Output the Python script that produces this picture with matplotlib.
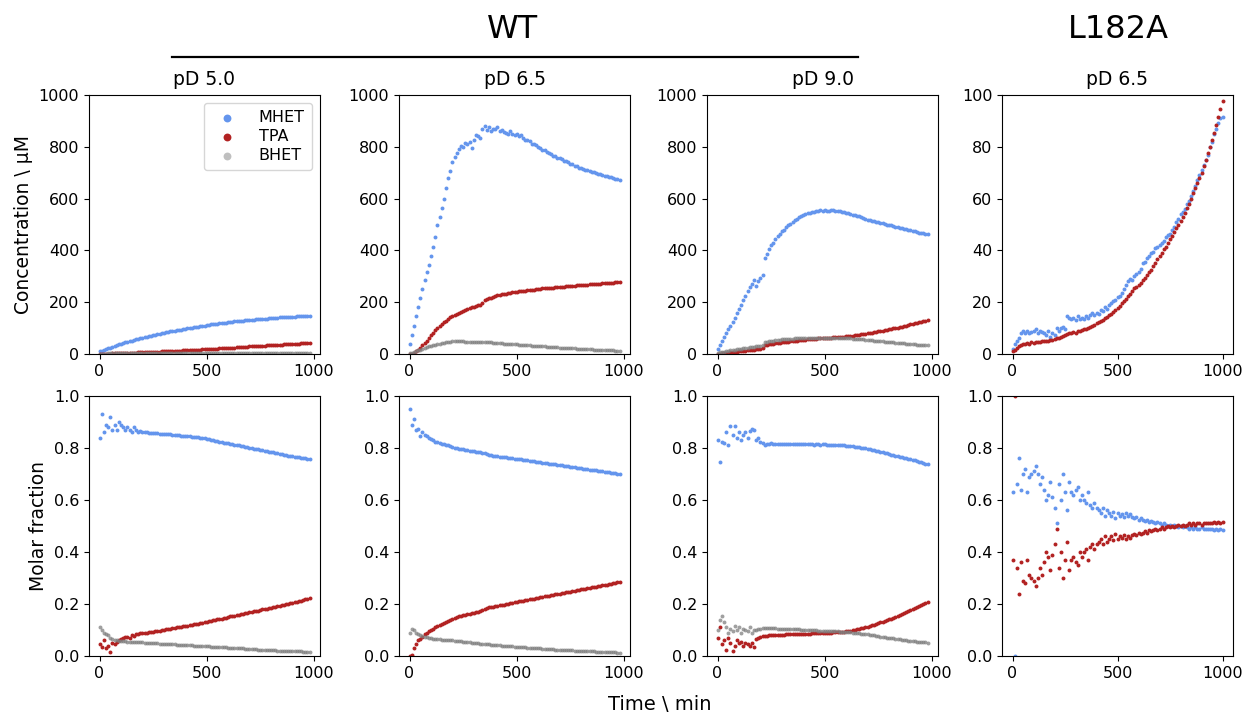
import numpy as np
import matplotlib
matplotlib.use("Agg")
import matplotlib.pyplot as plt
from matplotlib.lines import Line2D

# ---------------- data ----------------
time_wt = np.arange(0, 990, 10)      # min, WT runs
time_l182a = np.arange(0, 1010, 10)  # min, L182A run

panel_titles = ["pD 5.0", "pD 6.5", "pD 9.0", "pD 6.5"]
series_names = ["MHET", "TPA", "BHET"]

# Concentrations (µM)
mhet_pd50 = [
    10, 13, 16, 19, 22, 25, 28, 31, 34, 37,
    40, 42, 45, 47, 50, 52, 54, 56, 58, 61,
    63, 65, 67, 69, 71, 73, 75, 77, 78, 80,
    82, 84, 85, 87, 88, 90, 91, 93, 94, 96,
    98, 99, 100, 102, 103, 104, 106, 107, 108, 110,
    112, 113, 114, 115, 116, 117, 118, 119, 120, 121,
    123, 124, 125, 126, 127, 127, 128, 129, 130, 131,
    132, 133, 133, 134, 135, 135, 136, 137, 137, 138,
    139, 139, 140, 140, 141, 141, 142, 142, 143, 143,
    144, 144, 145, 145, 146, 146, 147, 147, 148]
tpa_pd50 = [
    0, 0, 1, 1, 1, 1, 2, 2, 2, 3,
    3, 3, 4, 4, 4, 5, 5, 5, 6, 6,
    6, 7, 7, 7, 8, 8, 9, 9, 9, 10,
    10, 10, 11, 11, 12, 12, 12, 13, 13, 14,
    14, 14, 15, 15, 16, 16, 17, 17, 18, 18,
    19, 19, 20, 20, 21, 21, 22, 22, 23, 23,
    24, 24, 25, 25, 26, 26, 27, 27, 28, 28,
    29, 29, 30, 30, 31, 31, 32, 32, 33, 33,
    34, 34, 35, 35, 36, 36, 37, 37, 38, 38,
    39, 39, 40, 40, 41, 41, 42, 42, 43]
bhet_pd50 = [
    1, 1, 1, 1, 2, 2, 2, 2, 2, 2,
    2, 3, 3, 3, 3, 3, 3, 3, 3, 4,
    4, 4, 4, 4, 4, 4, 4, 4, 4, 5,
    5, 5, 5, 5, 5, 5, 5, 5, 5, 5,
    5, 5, 5, 5, 5, 5, 5, 5, 5, 5,
    5, 5, 5, 5, 5, 5, 5, 5, 5, 5,
    5, 5, 5, 5, 5, 5, 4, 4, 4, 4,
    4, 4, 4, 4, 4, 4, 4, 4, 4, 4,
    4, 4, 4, 4, 4, 4, 4, 4, 4, 3,
    3, 3, 3, 3, 3, 3, 3, 3, 3]

mhet_pd65 = [
    40, 75, 110, 145, 180, 215, 250, 285, 315, 345,
    380, 415, 450, 500, 530, 565, 600, 640, 680, 705,
    740, 760, 775, 790, 805, 800, 815, 810, 820, 795,
    825, 845, 840, 835, 870, 880, 865, 875, 860, 870,
    868, 875, 862, 865, 858, 855, 850, 860, 848, 845,
    850, 840, 845, 835, 828, 825, 822, 812, 810, 806,
    800, 797, 788, 786, 780, 776, 772, 765, 764, 757,
    756, 753, 746, 745, 741, 735, 733, 727, 725, 719,
    717, 715, 710, 710, 705, 703, 701, 697, 696, 694,
    692, 688, 687, 683, 682, 678, 677, 674, 671]
tpa_pd65 = [
    0, 0, 3, 10, 17, 25, 33, 42, 52, 62,
    72, 82, 92, 100, 108, 115, 122, 128, 135, 141,
    146, 150, 154, 158, 162, 166, 169, 172, 176, 180,
    183, 186, 188, 190, 198, 208, 212, 215, 218, 221,
    224, 226, 228, 230, 231, 233, 235, 236, 238, 239,
    241, 242, 243, 244, 245, 246, 247, 248, 249, 250,
    251, 252, 253, 253, 254, 255, 256, 256, 257, 258,
    259, 260, 260, 261, 262, 263, 263, 264, 265, 265,
    266, 267, 267, 268, 269, 269, 270, 271, 271, 272,
    273, 273, 274, 275, 275, 276, 277, 277, 278]
bhet_pd65 = [
    2, 5, 8, 11, 14, 17, 20, 23, 26, 29,
    31, 33, 36, 38, 40, 42, 44, 46, 47, 48,
    49, 50, 50, 50, 49, 49, 48, 48, 47, 47,
    46, 46, 46, 45, 45, 45, 46, 45, 45, 44,
    44, 43, 42, 41, 40, 40, 39, 38, 38, 37,
    37, 36, 35, 35, 34, 33, 33, 32, 31, 31,
    30, 30, 29, 29, 28, 28, 27, 27, 26, 26,
    25, 25, 24, 24, 23, 23, 22, 22, 21, 21,
    20, 20, 19, 19, 18, 18, 17, 17, 16, 16,
    15, 15, 15, 14, 14, 14, 13, 13, 13]

mhet_pd90 = [
    20, 35, 50, 65, 80, 95, 108, 122, 140, 158,
    175, 190, 208, 225, 245, 258, 270, 285, 262, 280,
    295, 305, 370, 385, 405, 420, 430, 445, 455, 465,
    475, 480, 490, 497, 503, 510, 516, 522, 528, 532,
    537, 540, 543, 546, 548, 550, 552, 553, 555, 554,
    555, 553, 554, 556, 555, 552, 553, 551, 549, 547,
    545, 543, 541, 538, 536, 533, 531, 528, 525, 522,
    519, 518, 514, 513, 509, 509, 505, 504, 501, 500,
    497, 497, 493, 492, 489, 488, 485, 484, 481, 480,
    477, 476, 473, 472, 469, 468, 466, 465, 462]
tpa_pd90 = [
    0, 1, 2, 3, 4, 5, 6, 7, 8, 9,
    10, 11, 12, 13, 14, 15, 16, 17, 18, 19,
    20, 22, 33, 35, 37, 39, 40, 41, 43, 44,
    45, 46, 47, 48, 49, 50, 51, 52, 53, 54,
    55, 55, 56, 57, 58, 58, 59, 60, 60, 61,
    62, 62, 63, 63, 64, 64, 65, 66, 66, 67,
    68, 69, 70, 71, 72, 73, 74, 76, 77, 78,
    80, 81, 82, 84, 85, 87, 88, 90, 91, 93,
    95, 97, 99, 100, 102, 104, 106, 108, 110, 112,
    114, 116, 118, 120, 122, 124, 127, 129, 132]
bhet_pd90 = [
    5, 6, 8, 9, 11, 12, 14, 15, 17, 18,
    20, 21, 22, 23, 25, 26, 27, 28, 29, 30,
    31, 33, 46, 48, 49, 51, 52, 53, 54, 55,
    56, 57, 58, 58, 59, 59, 60, 60, 61, 61,
    62, 62, 62, 62, 63, 63, 63, 63, 63, 63,
    63, 63, 63, 63, 62, 62, 62, 62, 62, 61,
    61, 60, 60, 59, 59, 58, 57, 57, 56, 55,
    55, 54, 53, 52, 52, 51, 50, 49, 48, 48,
    47, 46, 45, 44, 43, 43, 42, 41, 40, 39,
    38, 38, 37, 36, 35, 35, 34, 33, 33]

mhet_l182a = [
    2, 4, 5, 6, 8, 9, 8, 9, 8, 8.5,
    9, 9.5, 8, 9, 8.5, 8, 7.5, 9, 6.5, 8,
    7.5, 10, 9, 10, 10.5, 9.5, 14.5, 14, 13.5, 14,
    13, 14.5, 13.5, 14, 13.5, 14.5, 14, 15, 16, 15,
    16, 15.5, 17, 16.5, 18, 17.5, 19, 19.5, 20.5, 21,
    22, 22.5, 23.5, 25, 26.5, 28, 29, 28.5, 30, 31,
    31.5, 33, 35, 35.5, 37, 38, 39, 39.5, 41, 41.5,
    42, 43, 43.5, 45, 46, 46.5, 48, 49, 51, 52,
    54, 55, 56, 58, 59, 61, 63, 65, 67, 69,
    71, 73, 75, 77, 80, 82, 85, 87, 89, 91,
    91.5]
tpa_l182a = [
    1, 1.5, 2.5, 3, 3.5, 4, 4, 4.2, 4, 4.5,
    4.3, 4.5, 4.8, 4.6, 5, 5, 5.2, 5, 5.5, 5.3,
    5.8, 6, 6.3, 6.5, 7, 7.5, 7.8, 8, 8.2, 8.5,
    8.3, 8.8, 9, 9.2, 9.5, 9.8, 10.2, 10.5, 11, 11.2,
    11.8, 12.3, 12.8, 13.2, 13.8, 14.3, 15, 15.5, 16.2, 17,
    17.8, 18.6, 19.5, 20.4, 21.3, 22.3, 23.3, 24.3, 25.4, 26,
    26.5, 27.5, 28.5, 29.5, 30.5, 31.5, 32.5, 33.8, 35, 36.5,
    38, 39, 40.5, 41.5, 43, 44.5, 45.5, 47, 48.5, 50,
    51.5, 53, 54.5, 56.5, 58, 60, 62, 64, 66, 68,
    70, 72.5, 75, 77.5, 80, 82.5, 85.5, 88.5, 91.5, 94.5,
    97.5]

# Molar fractions
frac_mhet_pd50 = [
    0.84, 0.93, 0.86, 0.89, 0.88, 0.92, 0.87, 0.89, 0.87, 0.90,
    0.89, 0.88, 0.87, 0.88, 0.87, 0.86, 0.88, 0.87, 0.86, 0.865,
    0.862, 0.86, 0.86, 0.858, 0.858, 0.857, 0.856, 0.856, 0.855, 0.855,
    0.854, 0.853, 0.853, 0.852, 0.851, 0.85, 0.85, 0.849, 0.848, 0.848,
    0.847, 0.846, 0.845, 0.844, 0.843, 0.842, 0.841, 0.84, 0.838, 0.837,
    0.835, 0.834, 0.832, 0.83, 0.828, 0.826, 0.825, 0.823, 0.821, 0.82,
    0.818, 0.816, 0.815, 0.813, 0.811, 0.81, 0.808, 0.806, 0.805, 0.803,
    0.801, 0.8, 0.798, 0.796, 0.795, 0.793, 0.791, 0.79, 0.788, 0.786,
    0.785, 0.783, 0.781, 0.78, 0.778, 0.776, 0.775, 0.773, 0.771, 0.77,
    0.768, 0.767, 0.765, 0.764, 0.762, 0.761, 0.76, 0.758, 0.757]
frac_tpa_pd50 = [
    0.045, 0.035, 0.06, 0.03, 0.04, 0.015, 0.05, 0.045, 0.055, 0.06,
    0.065, 0.07, 0.072, 0.075, 0.07, 0.08, 0.078, 0.085, 0.086, 0.087,
    0.088, 0.089, 0.09, 0.091, 0.092, 0.094, 0.095, 0.096, 0.097, 0.099,
    0.101, 0.102, 0.104, 0.105, 0.107, 0.108, 0.11, 0.111, 0.113, 0.114,
    0.116, 0.117, 0.119, 0.12, 0.122, 0.123, 0.125, 0.127, 0.128, 0.13,
    0.132, 0.134, 0.135, 0.137, 0.139, 0.141, 0.143, 0.144, 0.146, 0.148,
    0.15, 0.152, 0.154, 0.155, 0.157, 0.159, 0.161, 0.163, 0.164, 0.166,
    0.168, 0.17, 0.172, 0.173, 0.175, 0.177, 0.179, 0.181, 0.182, 0.184,
    0.186, 0.188, 0.19, 0.191, 0.193, 0.195, 0.197, 0.199, 0.2, 0.202,
    0.204, 0.206, 0.208, 0.21, 0.212, 0.215, 0.218, 0.221, 0.225]
frac_bhet_pd50 = [
    0.11, 0.10, 0.09, 0.085, 0.08, 0.07, 0.065, 0.06, 0.06, 0.058,
    0.057, 0.056, 0.056, 0.055, 0.055, 0.054, 0.054, 0.053, 0.053, 0.052,
    0.052, 0.051, 0.051, 0.05, 0.05, 0.05, 0.049, 0.049, 0.048, 0.048,
    0.047, 0.047, 0.046, 0.046, 0.045, 0.045, 0.044, 0.044, 0.043, 0.043,
    0.042, 0.042, 0.041, 0.041, 0.04, 0.04, 0.039, 0.039, 0.038, 0.038,
    0.037, 0.037, 0.036, 0.036, 0.035, 0.035, 0.034, 0.034, 0.033, 0.033,
    0.032, 0.032, 0.031, 0.031, 0.03, 0.03, 0.029, 0.029, 0.028, 0.028,
    0.027, 0.027, 0.026, 0.026, 0.025, 0.025, 0.024, 0.024, 0.023, 0.023,
    0.022, 0.022, 0.022, 0.021, 0.021, 0.021, 0.02, 0.02, 0.02, 0.019,
    0.019, 0.019, 0.018, 0.018, 0.018, 0.017, 0.017, 0.017, 0.016]

frac_mhet_pd65 = [
    0.95, 0.89, 0.91, 0.87, 0.875, 0.845, 0.86, 0.85, 0.845, 0.84,
    0.835, 0.83, 0.825, 0.822, 0.82, 0.817, 0.815, 0.812, 0.81, 0.806,
    0.803, 0.8, 0.799, 0.798, 0.797, 0.795, 0.793, 0.792, 0.79, 0.789,
    0.788, 0.786, 0.785, 0.784, 0.782, 0.779, 0.776, 0.774, 0.772, 0.771,
    0.77, 0.768, 0.767, 0.766, 0.765, 0.764, 0.763, 0.762, 0.76, 0.759,
    0.758, 0.757, 0.756, 0.755, 0.754, 0.753, 0.751, 0.75, 0.749, 0.748,
    0.747, 0.745, 0.744, 0.743, 0.742, 0.74, 0.739, 0.738, 0.737, 0.736,
    0.734, 0.733, 0.732, 0.731, 0.73, 0.728, 0.727, 0.726, 0.725, 0.724,
    0.722, 0.721, 0.72, 0.719, 0.717, 0.716, 0.715, 0.714, 0.712, 0.711,
    0.71, 0.709, 0.707, 0.706, 0.705, 0.703, 0.702, 0.701, 0.699]
frac_tpa_pd65 = [
    0.0, 0.005, 0.03, 0.045, 0.06, 0.065, 0.075, 0.085, 0.09, 0.095,
    0.1, 0.105, 0.11, 0.115, 0.12, 0.125, 0.128, 0.132, 0.136, 0.14,
    0.144, 0.148, 0.15, 0.152, 0.155, 0.157, 0.159, 0.161, 0.163, 0.165,
    0.167, 0.169, 0.171, 0.173, 0.176, 0.18, 0.184, 0.187, 0.189, 0.19,
    0.192, 0.194, 0.195, 0.197, 0.198, 0.2, 0.201, 0.203, 0.204, 0.206,
    0.208, 0.21, 0.211, 0.213, 0.214, 0.216, 0.218, 0.219, 0.221, 0.222,
    0.224, 0.226, 0.227, 0.229, 0.23, 0.232, 0.234, 0.235, 0.237, 0.238,
    0.24, 0.242, 0.243, 0.245, 0.246, 0.248, 0.25, 0.251, 0.253, 0.254,
    0.256, 0.258, 0.259, 0.261, 0.262, 0.264, 0.266, 0.267, 0.269, 0.27,
    0.272, 0.274, 0.275, 0.277, 0.278, 0.28, 0.282, 0.283, 0.285]
frac_bhet_pd65 = [
    0.09, 0.105, 0.1, 0.09, 0.085, 0.08, 0.078, 0.075, 0.073, 0.07,
    0.068, 0.067, 0.066, 0.065, 0.064, 0.063, 0.062, 0.062, 0.061, 0.06,
    0.06, 0.059, 0.058, 0.057, 0.056, 0.055, 0.054, 0.053, 0.052, 0.051,
    0.05, 0.049, 0.049, 0.048, 0.047, 0.046, 0.046, 0.045, 0.044, 0.043,
    0.042, 0.042, 0.041, 0.04, 0.04, 0.039, 0.038, 0.037, 0.037, 0.036,
    0.035, 0.035, 0.034, 0.034, 0.033, 0.032, 0.032, 0.031, 0.031, 0.03,
    0.029, 0.029, 0.028, 0.028, 0.027, 0.027, 0.026, 0.026, 0.025, 0.025,
    0.024, 0.024, 0.023, 0.023, 0.022, 0.022, 0.022, 0.021, 0.021, 0.02,
    0.02, 0.02, 0.019, 0.019, 0.018, 0.018, 0.018, 0.017, 0.017, 0.017,
    0.016, 0.016, 0.015, 0.015, 0.015, 0.014, 0.014, 0.013, 0.013]

frac_mhet_pd90 = [
    0.83, 0.745, 0.825, 0.82, 0.86, 0.81, 0.885, 0.85, 0.885, 0.84,
    0.86, 0.83, 0.85, 0.86, 0.84, 0.865, 0.875, 0.87, 0.83, 0.84,
    0.825, 0.82, 0.81, 0.815, 0.815, 0.818, 0.815, 0.817, 0.815, 0.816,
    0.817, 0.816, 0.815, 0.815, 0.815, 0.814, 0.815, 0.814, 0.814, 0.815,
    0.814, 0.814, 0.815, 0.814, 0.814, 0.813, 0.814, 0.814, 0.813, 0.814,
    0.814, 0.813, 0.813, 0.813, 0.812, 0.812, 0.811, 0.811, 0.81, 0.81,
    0.809, 0.808, 0.807, 0.806, 0.805, 0.804, 0.803, 0.801, 0.8, 0.799,
    0.797, 0.795, 0.793, 0.791, 0.789, 0.787, 0.785, 0.783, 0.781, 0.779,
    0.777, 0.775, 0.773, 0.771, 0.769, 0.767, 0.765, 0.763, 0.761, 0.759,
    0.757, 0.755, 0.752, 0.75, 0.748, 0.745, 0.743, 0.74, 0.737]
frac_tpa_pd90 = [
    0.07, 0.11, 0.045, 0.06, 0.025, 0.07, 0.05, 0.02, 0.04, 0.06,
    0.05, 0.055, 0.04, 0.05, 0.045, 0.04, 0.05, 0.035, 0.065, 0.07,
    0.075, 0.076, 0.078, 0.078, 0.08, 0.08, 0.08, 0.081, 0.081, 0.082,
    0.082, 0.082, 0.083, 0.083, 0.083, 0.084, 0.084, 0.084, 0.085, 0.085,
    0.085, 0.086, 0.086, 0.086, 0.087, 0.087, 0.087, 0.088, 0.088, 0.088,
    0.089, 0.089, 0.09, 0.09, 0.091, 0.091, 0.092, 0.093, 0.093, 0.094,
    0.095, 0.096, 0.098, 0.099, 0.101, 0.103, 0.104, 0.106, 0.108, 0.111,
    0.113, 0.115, 0.118, 0.12, 0.123, 0.126, 0.129, 0.132, 0.135, 0.138,
    0.141, 0.144, 0.148, 0.151, 0.155, 0.158, 0.162, 0.166, 0.169, 0.173,
    0.177, 0.181, 0.185, 0.189, 0.193, 0.197, 0.201, 0.205, 0.209]
frac_bhet_pd90 = [
    0.1, 0.14, 0.155, 0.13, 0.11, 0.09, 0.105, 0.095, 0.115, 0.1,
    0.11, 0.09, 0.105, 0.1, 0.095, 0.11, 0.09, 0.1, 0.1, 0.105,
    0.105, 0.108, 0.108, 0.107, 0.107, 0.106, 0.106, 0.106, 0.105, 0.105,
    0.105, 0.104, 0.104, 0.104, 0.103, 0.103, 0.103, 0.102, 0.102, 0.101,
    0.101, 0.1, 0.1, 0.1, 0.099, 0.099, 0.099, 0.098, 0.098, 0.098,
    0.097, 0.097, 0.096, 0.096, 0.096, 0.095, 0.095, 0.094, 0.094, 0.093,
    0.093, 0.092, 0.091, 0.09, 0.089, 0.088, 0.087, 0.086, 0.085, 0.084,
    0.083, 0.082, 0.08, 0.079, 0.078, 0.077, 0.075, 0.074, 0.073, 0.071,
    0.07, 0.069, 0.068, 0.066, 0.065, 0.064, 0.063, 0.062, 0.06, 0.059,
    0.058, 0.057, 0.056, 0.055, 0.054, 0.053, 0.053, 0.052, 0.051]

frac_mhet_l182a = [
    0.63, 0.0, 0.66, 0.76, 0.64, 0.70, 0.72, 0.63, 0.69, 0.70,
    0.71, 0.73, 0.70, 0.66, 0.69, 0.64, 0.60, 0.62, 0.67, 0.61,
    0.57, 0.51, 0.66, 0.60, 0.70, 0.63, 0.56, 0.67, 0.63, 0.62,
    0.64, 0.65, 0.60, 0.62, 0.60, 0.59, 0.63, 0.58, 0.57, 0.59,
    0.57, 0.56, 0.55, 0.57, 0.54, 0.56, 0.55, 0.54, 0.555, 0.53,
    0.55, 0.54, 0.545, 0.535, 0.55, 0.54, 0.545, 0.535, 0.53, 0.535,
    0.525, 0.53, 0.525, 0.52, 0.525, 0.515, 0.52, 0.515, 0.51, 0.515,
    0.51, 0.505, 0.51, 0.505, 0.5, 0.505, 0.5, 0.505, 0.5, 0.495,
    0.5, 0.495, 0.5, 0.495, 0.49, 0.495, 0.49, 0.495, 0.49, 0.49,
    0.495, 0.49, 0.488, 0.49, 0.487, 0.49, 0.486, 0.488, 0.485, 0.487,
    0.484]
frac_tpa_l182a = [
    0.37, 1.0, 0.34, 0.24, 0.36, 0.29, 0.28, 0.37, 0.31, 0.30,
    0.29, 0.27, 0.30, 0.34, 0.31, 0.36, 0.40, 0.38, 0.33, 0.39,
    0.43, 0.49, 0.34, 0.40, 0.30, 0.37, 0.44, 0.33, 0.37, 0.38,
    0.36, 0.35, 0.40, 0.38, 0.40, 0.41, 0.37, 0.42, 0.43, 0.41,
    0.43, 0.44, 0.45, 0.43, 0.46, 0.44, 0.45, 0.46, 0.445, 0.47,
    0.45, 0.46, 0.455, 0.465, 0.45, 0.46, 0.455, 0.465, 0.47, 0.465,
    0.475, 0.47, 0.475, 0.48, 0.475, 0.485, 0.48, 0.485, 0.49, 0.485,
    0.49, 0.495, 0.49, 0.495, 0.5, 0.495, 0.5, 0.495, 0.5, 0.505,
    0.5, 0.505, 0.5, 0.505, 0.51, 0.505, 0.51, 0.505, 0.51, 0.51,
    0.505, 0.51, 0.512, 0.51, 0.513, 0.51, 0.514, 0.512, 0.515, 0.513,
    0.516]

# ---------------- styling ----------------
colors = {"MHET": "cornflowerblue", "TPA": "firebrick", "BHET": "gray"}
alphas = {"MHET": 1.0, "TPA": 1.0, "BHET": 0.75}

W, H = 1246, 717
fig = plt.figure(figsize=(W / 100, H / 100), dpi=100)

lefts = [89, 399, 707, 1002]
aw = 231
row_boxes = [(95, 259), (396, 260)]


def make_ax(left, top, w, h):
    return fig.add_axes([left / W, 1 - (top + h) / H, w / W, h / H])


conc_panels = [
    (time_wt, {"MHET": mhet_pd50, "TPA": tpa_pd50, "BHET": bhet_pd50}, 1000),
    (time_wt, {"MHET": mhet_pd65, "TPA": tpa_pd65, "BHET": bhet_pd65}, 1000),
    (time_wt, {"MHET": mhet_pd90, "TPA": tpa_pd90, "BHET": bhet_pd90}, 1000),
    (time_l182a, {"MHET": mhet_l182a, "TPA": tpa_l182a}, 100),
]
frac_panels = [
    (time_wt, {"MHET": frac_mhet_pd50, "TPA": frac_tpa_pd50, "BHET": frac_bhet_pd50}),
    (time_wt, {"MHET": frac_mhet_pd65, "TPA": frac_tpa_pd65, "BHET": frac_bhet_pd65}),
    (time_wt, {"MHET": frac_mhet_pd90, "TPA": frac_tpa_pd90, "BHET": frac_bhet_pd90}),
    (time_l182a, {"MHET": frac_mhet_l182a, "TPA": frac_tpa_l182a}),
]

MS = 8
for i in range(4):
    # top row: concentrations
    t, data, ymax = conc_panels[i]
    ax = make_ax(lefts[i], row_boxes[0][0], aw, row_boxes[0][1])
    for name in series_names:
        if name in data:
            ax.scatter(t, data[name], s=MS, color=colors[name], alpha=alphas[name],
                       linewidths=0, label=name)
    ax.set_ylim(0, ymax)
    ax.set_xticks([0, 500, 1000])
    ax.set_title(panel_titles[i], fontsize=13.5, pad=7)
    ax.tick_params(labelsize=11.5)
    if i == 0:
        ax.set_ylabel("Concentration \\ µM", fontsize=13.5)
        leg = ax.legend(loc="upper right", markerscale=2.0, fontsize=11.5,
                        handletextpad=1.0, borderpad=0.45, labelspacing=0.25)
        for lh in leg.legend_handles:
            lh.set_alpha(None)
        leg.legend_handles[2].set_alpha(0.5)

    # bottom row: molar fractions
    t, data = frac_panels[i]
    ax = make_ax(lefts[i], row_boxes[1][0], aw, row_boxes[1][1])
    for name in series_names:
        if name in data:
            ax.scatter(t, data[name], s=MS, color=colors[name], alpha=alphas[name],
                       linewidths=0, label=name)
    ax.set_ylim(0, 1.0)
    ax.set_xticks([0, 500, 1000])
    ax.tick_params(labelsize=11.5)
    if i == 0:
        ax.set_ylabel("Molar fraction", fontsize=13.5)

# group headings
fig.text(512 / W, 1 - 30 / H, "WT", ha="center", va="center", fontsize=23)
fig.text(1118 / W, 1 - 30 / H, "L182A", ha="center", va="center", fontsize=23)
fig.add_artist(Line2D([172 / W, 858 / W], [1 - 57 / H, 1 - 57 / H],
                      color="black", linewidth=1.6, transform=fig.transFigure))
fig.text(660 / W, 1 - 705 / H, "Time \\ min", ha="center", va="center", fontsize=14)

fig.savefig("out.png", dpi=100)
